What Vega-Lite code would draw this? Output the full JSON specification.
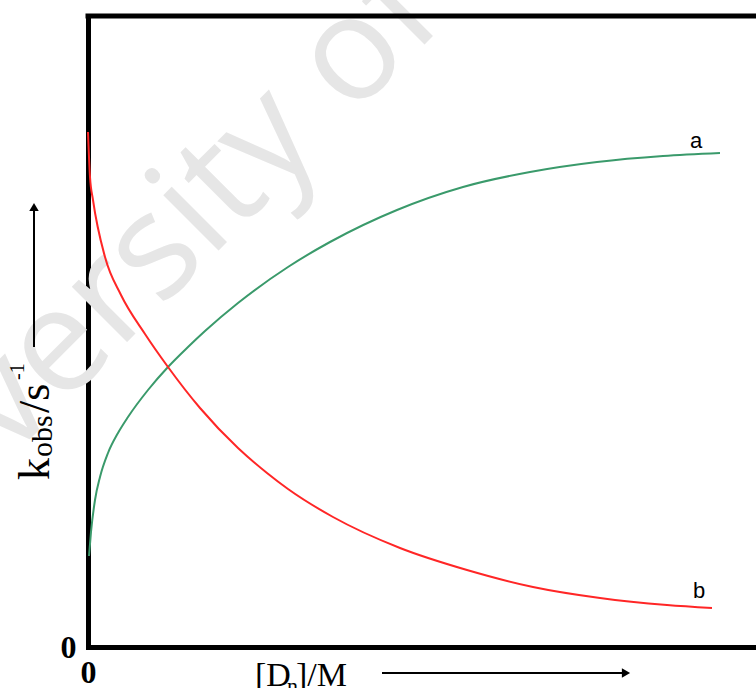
{
  "$schema": "https://vega.github.io/schema/vega-lite/v6.json",
  "width": 668,
  "height": 631,
  "autosize": {"type": "none"},
  "padding": {"left": 88, "top": 16, "right": 0, "bottom": 41},
  "background": "white",
  "view": {"stroke": null},
  "config": {"axis": {"grid": false}},
  "datasets": {
    "curves": [
      {"series": "a", "x": 1, "y": 91},
      {"series": "a", "x": 3, "y": 115},
      {"series": "a", "x": 7, "y": 147},
      {"series": "a", "x": 12, "y": 170},
      {"series": "a", "x": 20, "y": 194},
      {"series": "a", "x": 30, "y": 214},
      {"series": "a", "x": 40, "y": 230},
      {"series": "a", "x": 60, "y": 257},
      {"series": "a", "x": 80, "y": 280},
      {"series": "a", "x": 100, "y": 300},
      {"series": "a", "x": 117, "y": 316},
      {"series": "a", "x": 150, "y": 344},
      {"series": "a", "x": 200, "y": 380},
      {"series": "a", "x": 242, "y": 405},
      {"series": "a", "x": 309, "y": 437},
      {"series": "a", "x": 375, "y": 460},
      {"series": "a", "x": 442, "y": 475},
      {"series": "a", "x": 509, "y": 485},
      {"series": "a", "x": 575, "y": 491},
      {"series": "a", "x": 632, "y": 494},
      {"series": "b", "x": 0, "y": 515},
      {"series": "b", "x": 2, "y": 470},
      {"series": "b", "x": 5, "y": 447},
      {"series": "b", "x": 17, "y": 390},
      {"series": "b", "x": 33, "y": 352},
      {"series": "b", "x": 57, "y": 313},
      {"series": "b", "x": 80, "y": 280},
      {"series": "b", "x": 112, "y": 239},
      {"series": "b", "x": 150, "y": 199},
      {"series": "b", "x": 179, "y": 174},
      {"series": "b", "x": 200, "y": 158},
      {"series": "b", "x": 245, "y": 130},
      {"series": "b", "x": 312, "y": 99},
      {"series": "b", "x": 379, "y": 77},
      {"series": "b", "x": 445, "y": 60},
      {"series": "b", "x": 512, "y": 49},
      {"series": "b", "x": 579, "y": 42},
      {"series": "b", "x": 624, "y": 39}
    ],
    "labels": [
      {"label": "a", "x": 608, "y": 499},
      {"label": "b", "x": 611, "y": 49}
    ]
  },
  "layer": [
    {
      "data": {"values": [{}]},
      "mark": {"type": "text", "text": "University of", "font": "Open Sans", "fontSize": 146, "color": "#e6e6e6", "angle": 315, "align": "right", "baseline": "alphabetic"},
      "encoding": {
        "x": {"datum": 360, "type": "quantitative"},
        "y": {"datum": 626, "type": "quantitative"}
      }
    },
    {
      "data": {"name": "curves"},
      "mark": {"type": "line", "interpolate": "monotone", "strokeWidth": 2},
      "encoding": {
        "x": {"field": "x", "type": "quantitative",
          "scale": {"domain": [0, 668], "nice": false, "zero": false},
          "axis": {"values": [0], "title": null, "grid": false, "ticks": false, "tickSize": 0, "domain": true, "domainColor": "black", "domainWidth": 5, "domainCap": "square", "labelFont": "Liberation Serif", "labelFontSize": 32, "labelFontWeight": "bold", "labelColor": "black", "labelPadding": 10, "labelFlush": false, "format": "d"}},
        "y": {"field": "y", "type": "quantitative",
          "scale": {"domain": [0, 631], "nice": false, "zero": false},
          "axis": {"values": [0], "title": null, "grid": false, "ticks": false, "tickSize": 0, "domain": true, "domainColor": "black", "domainWidth": 5, "domainCap": "square", "labelFont": "Liberation Serif", "labelFontSize": 32, "labelFontWeight": "bold", "labelColor": "black", "labelPadding": 12, "labelFlush": false, "format": "d"}},
        "color": {"field": "series", "type": "nominal", "scale": {"domain": ["a", "b"], "range": ["#3a9a6b", "#ff2626"]}, "legend": null}
      }
    },
    {
      "data": {"name": "labels"},
      "mark": {"type": "text", "font": "Liberation Sans", "fontSize": 22, "color": "black", "align": "center", "baseline": "alphabetic"},
      "encoding": {
        "x": {"field": "x", "type": "quantitative"},
        "y": {"field": "y", "type": "quantitative"},
        "text": {"field": "label"}
      }
    },
    {
      "data": {"values": [{}]},
      "mark": {"type": "rule", "color": "black", "strokeWidth": 5, "strokeCap": "square"},
      "encoding": {
        "x": {"datum": 0, "type": "quantitative"},
        "x2": {"datum": 668},
        "y": {"datum": 631, "type": "quantitative"}
      }
    },
    {
      "data": {"values": [{}]},
      "mark": {"type": "rule", "color": "black", "strokeWidth": 2},
      "encoding": {
        "x": {"datum": 294, "type": "quantitative"},
        "x2": {"datum": 536},
        "y": {"datum": -26, "type": "quantitative"}
      }
    },
    {
      "data": {"values": [{}]},
      "mark": {"type": "point", "shape": "triangle-right", "size": 90, "filled": true, "color": "black", "opacity": 1},
      "encoding": {
        "x": {"datum": 538, "type": "quantitative"},
        "y": {"datum": -26, "type": "quantitative"}
      }
    },
    {
      "data": {"values": [{}]},
      "mark": {"type": "rule", "color": "black", "strokeWidth": 2},
      "encoding": {
        "x": {"datum": -54, "type": "quantitative"},
        "y": {"datum": 300, "type": "quantitative"},
        "y2": {"datum": 437}
      }
    },
    {
      "data": {"values": [{}]},
      "mark": {"type": "point", "shape": "triangle-up", "size": 90, "filled": true, "color": "black", "opacity": 1},
      "encoding": {
        "x": {"datum": -54, "type": "quantitative"},
        "y": {"datum": 440, "type": "quantitative"}
      }
    },
    {
      "data": {"values": [{}]},
      "mark": {"type": "text", "text": "[D", "font": "Liberation Serif", "fontSize": 34, "color": "black", "align": "left", "baseline": "alphabetic"},
      "encoding": {
        "x": {"datum": 167, "type": "quantitative"},
        "y": {"datum": -39, "type": "quantitative"}
      }
    },
    {
      "data": {"values": [{}]},
      "mark": {"type": "text", "text": "n", "font": "Liberation Serif", "fontSize": 22, "color": "black", "align": "left", "baseline": "alphabetic"},
      "encoding": {
        "x": {"datum": 199, "type": "quantitative"},
        "y": {"datum": -46, "type": "quantitative"}
      }
    },
    {
      "data": {"values": [{}]},
      "mark": {"type": "text", "text": "]/M", "font": "Liberation Serif", "fontSize": 34, "color": "black", "align": "left", "baseline": "alphabetic"},
      "encoding": {
        "x": {"datum": 208, "type": "quantitative"},
        "y": {"datum": -39, "type": "quantitative"}
      }
    },
    {
      "data": {"values": [{}]},
      "mark": {"type": "text", "text": "k", "font": "Liberation Serif", "fontSize": 44, "color": "black", "angle": 270, "align": "left", "baseline": "alphabetic"},
      "encoding": {
        "x": {"datum": -39, "type": "quantitative"},
        "y": {"datum": 167, "type": "quantitative"}
      }
    },
    {
      "data": {"values": [{}]},
      "mark": {"type": "text", "text": "obs", "font": "Liberation Serif", "fontSize": 30, "color": "black", "angle": 270, "align": "left", "baseline": "alphabetic"},
      "encoding": {
        "x": {"datum": -36, "type": "quantitative"},
        "y": {"datum": 190, "type": "quantitative"}
      }
    },
    {
      "data": {"values": [{}]},
      "mark": {"type": "text", "text": "/s", "font": "Liberation Serif", "fontSize": 44, "color": "black", "angle": 270, "align": "left", "baseline": "alphabetic"},
      "encoding": {
        "x": {"datum": -39, "type": "quantitative"},
        "y": {"datum": 234, "type": "quantitative"}
      }
    },
    {
      "data": {"values": [{}]},
      "mark": {"type": "text", "text": "-1", "font": "Liberation Serif", "fontSize": 20, "color": "black", "angle": 270, "align": "left", "baseline": "alphabetic"},
      "encoding": {
        "x": {"datum": -64, "type": "quantitative"},
        "y": {"datum": 267, "type": "quantitative"}
      }
    }
  ]
}
